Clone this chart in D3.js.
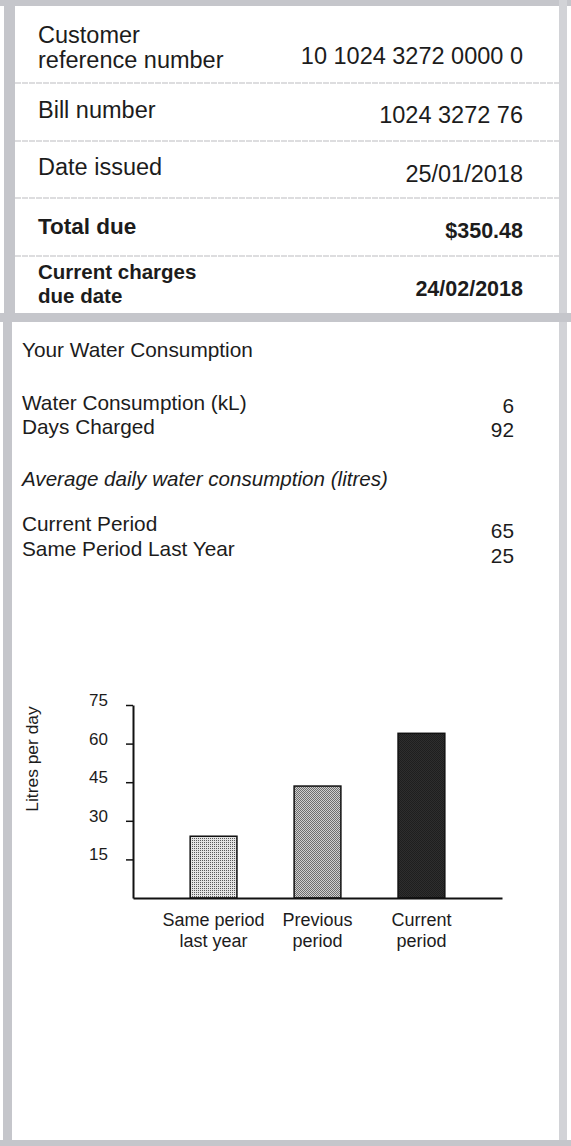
<!DOCTYPE html>
<html>
<head>
<meta charset="utf-8">
<script src="https://cdn.jsdelivr.net/npm/d3@7"></script>
<style>
  html, body { margin: 0; padding: 0; background: #fff; }
  svg { display: block; font-family: "Liberation Sans", Arial, sans-serif; }
  .ink { fill: #1c1c1c; }
</style>
</head>
<body>
<div id="bill"></div>
<script>
// Bill summary rows
const infoLabels = [["Customer", "reference number"], ["Bill number"], ["Date issued"], ["Total due"], ["Current charges", "due date"]];
const infoValues = ["10 1024 3272 0000 0", "1024 3272 76", "25/01/2018", "$350.48", "24/02/2018"];
const infoBold = [false, false, false, true, true];

// Consumption summary
const consumptionLabels = ["Water Consumption (kL)", "Days Charged"];
const consumptionValues = [6, 92];
const averageLabels = ["Current Period", "Same Period Last Year"];
const averageValues = [65, 25];

// Bar chart
const categories = ["Same period last year", "Previous period", "Current period"];
const categoryLines = [["Same period", "last year"], ["Previous", "period"], ["Current", "period"]];
const litresPerDay = [24, 43.5, 64];
const yTicks = [15, 30, 45, 60, 75];

const W = 571, H = 1146;
const frame = "#c5c6cb";

const svg = d3.select("#bill").append("svg")
    .attr("width", W)
    .attr("height", H);

// patterns for the bars
const defs = svg.append("defs");
function dotPattern(id, bg, dot, full) {
    const p = defs.append("pattern")
        .attr("id", id)
        .attr("width", 2).attr("height", 2)
        .attr("patternUnits", "userSpaceOnUse");
    p.append("rect").attr("width", 2).attr("height", 2).attr("fill", bg);
    p.append("rect").attr("width", 1).attr("height", 1).attr("fill", dot);
    if (full) p.append("rect").attr("x", 1).attr("y", 1).attr("width", 1).attr("height", 1).attr("fill", dot);
}
dotPattern("pat-light", "#e4e4e4", "#5a5a5a", false);
dotPattern("pat-mid", "#d0d0d0", "#6e6e6e", true);
dotPattern("pat-dark", "#2e2e2e", "#1e1e1e", true);
const barFills = ["url(#pat-light)", "url(#pat-mid)", "url(#pat-dark)"];

// outer frame
svg.append("rect").attr("x", 0).attr("y", 0).attr("width", W).attr("height", 6).attr("fill", frame);
svg.append("rect").attr("x", 4).attr("y", 0).attr("width", 11).attr("height", 322).attr("fill", frame);
svg.append("rect").attr("x", 3).attr("y", 313).attr("width", 9).attr("height", H - 313).attr("fill", frame);
svg.append("rect").attr("x", 559).attr("y", 0).attr("width", 8).attr("height", H).attr("fill", "#d2d3d7");
svg.append("rect").attr("x", 0).attr("y", 313).attr("width", W).attr("height", 9).attr("fill", frame);
svg.append("rect").attr("x", 0).attr("y", 1140).attr("width", W).attr("height", 6).attr("fill", frame);

// --- top section: bill details ---
const rowLabelY = [43, 118, 175, 234, 279];
const rowLineGap = [25, 0, 0, 0, 24];
const rowLabelSize = [23.5, 23.5, 23.5, 22.5, 20.5];
const rowValueY = [64, 123, 182, 238, 296];
const sepY = [83, 141, 198, 256];

svg.append("g").selectAll("line")
    .data(sepY)
    .join("line")
    .attr("x1", 15).attr("x2", 559)
    .attr("y1", d => d).attr("y2", d => d)
    .attr("stroke", "#bcbcc0")
    .attr("stroke-width", 1.2)
    .attr("stroke-dasharray", "6 1");

const rows = svg.append("g").selectAll("g")
    .data(infoLabels)
    .join("g");

rows.each(function(lines, i) {
    const g = d3.select(this);
    const label = g.append("text")
        .attr("class", "ink")
        .attr("x", 38)
        .attr("y", rowLabelY[i])
        .attr("font-size", rowLabelSize[i])
        .attr("font-weight", infoBold[i] ? "bold" : "normal");
    lines.forEach((t, j) => {
        label.append("tspan")
            .attr("x", 38)
            .attr("dy", j === 0 ? 0 : rowLineGap[i])
            .text(t);
    });
    g.append("text")
        .attr("class", "ink")
        .attr("x", 523)
        .attr("y", rowValueY[i])
        .attr("text-anchor", "end")
        .attr("font-size", infoBold[i] ? 21.5 : 23.5)
        .attr("font-weight", infoBold[i] ? "bold" : "normal")
        .text(infoValues[i]);
});

// --- lower section: consumption ---
const low = svg.append("g").attr("font-size", 20.8);

low.append("text").attr("class", "ink")
    .attr("x", 22).attr("y", 357)
    .text("Your Water Consumption");

consumptionLabels.forEach((t, i) => {
    low.append("text").attr("class", "ink")
        .attr("x", 22).attr("y", 410 + i * 24).text(t);
    low.append("text").attr("class", "ink")
        .attr("x", 514).attr("y", 413 + i * 24)
        .attr("text-anchor", "end").text(consumptionValues[i]);
});

low.append("text").attr("class", "ink")
    .attr("x", 22).attr("y", 486)
    .attr("font-style", "italic")
    .attr("font-size", 20.6)
    .text("Average daily water consumption (litres)");

averageLabels.forEach((t, i) => {
    low.append("text").attr("class", "ink")
        .attr("x", 22).attr("y", 531 + i * 25).text(t);
    low.append("text").attr("class", "ink")
        .attr("x", 514).attr("y", 538 + i * 25)
        .attr("text-anchor", "end").text(averageValues[i]);
});

// --- bar chart ---
const x = d3.scaleBand()
    .domain(categories)
    .range([133, 502])
    .paddingInner(0.55)
    .paddingOuter(0.55);

const y = d3.scaleLinear()
    .domain([0, 75])
    .range([898, 705]);

const chart = svg.append("g");

chart.selectAll(".bar")
    .data(litresPerDay)
    .join("rect")
    .attr("class", "bar")
    .attr("x", (d, i) => x(categories[i]))
    .attr("y", d => y(d))
    .attr("width", x.bandwidth())
    .attr("height", d => y(0) - y(d))
    .attr("fill", (d, i) => barFills[i])
    .attr("stroke", "#111")
    .attr("stroke-width", 1.5);

// y axis
const yAxis = chart.append("g")
    .attr("transform", "translate(133,0)")
    .call(d3.axisLeft(y).tickValues(yTicks).tickSize(7).tickPadding(18).tickSizeOuter(0));
yAxis.attr("font-size", null).attr("font-family", null);
yAxis.select(".domain").attr("stroke", "#111").attr("stroke-width", 2);
yAxis.selectAll(".tick line").attr("stroke", "#111").attr("stroke-width", 1.5);
yAxis.selectAll(".tick text")
    .attr("fill", "#1c1c1c")
    .style("font-size", "17px")
    .attr("y", -5);

// baseline
const xAxis = chart.append("g")
    .attr("transform", `translate(0,${y(0)})`)
    .call(d3.axisBottom(x).tickSize(0).tickFormat(""));
xAxis.select(".domain").attr("stroke", "#111").attr("stroke-width", 2);

// category labels, two lines each
chart.append("g").selectAll("text")
    .data(categories)
    .join("text")
    .attr("class", "ink")
    .attr("text-anchor", "middle")
    .attr("font-size", 18)
    .attr("x", d => x(d) + x.bandwidth() / 2)
    .attr("y", 926)
    .each(function(d, i) {
        categoryLines[i].forEach((t, j) => {
            d3.select(this).append("tspan")
                .attr("x", x(d) + x.bandwidth() / 2)
                .attr("dy", j === 0 ? 0 : 21)
                .text(t);
        });
    });

// y axis title
chart.append("text")
    .attr("class", "ink")
    .attr("transform", "translate(38,759) rotate(-90)")
    .attr("text-anchor", "middle")
    .attr("font-size", 17.4)
    .text("Litres per day");
</script>
</body>
</html>
